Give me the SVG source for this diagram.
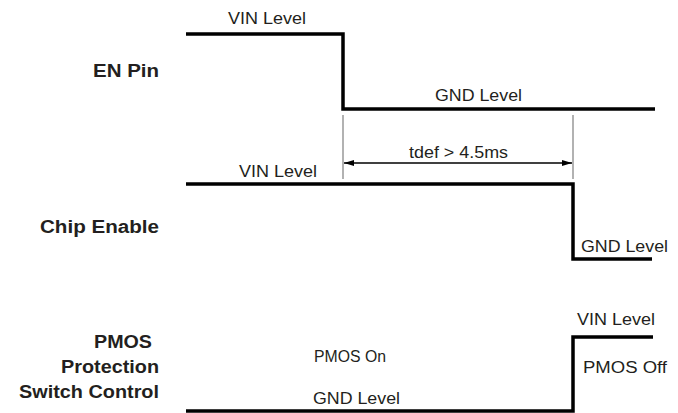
<svg xmlns="http://www.w3.org/2000/svg" width="678" height="413" viewBox="0 0 678 413">
<style>
.wave{fill:none;stroke:#000;stroke-width:3.5;stroke-linejoin:miter;stroke-linecap:butt}
.dim{fill:none;stroke:#999;stroke-width:1.5}
.arr{fill:none;stroke:#000;stroke-width:1.3}
.t{font-family:"Liberation Sans",Arial,sans-serif;font-size:16px;fill:#231f20}
.b{font-family:"Liberation Sans",Arial,sans-serif;font-size:18px;font-weight:bold;fill:#231f20}
</style>
<defs>
<marker id="ah" viewBox="0 0 10 6" refX="10" refY="3" markerWidth="10" markerHeight="6" markerUnits="userSpaceOnUse" orient="auto-start-reverse">
<path d="M0,0 L10,3 L0,6 Z" fill="#000"/>
</marker>
</defs>
<rect width="678" height="413" fill="#fff"/>
<g id="labels">
<text class="b" x="93" y="77" textLength="66" lengthAdjust="spacingAndGlyphs">EN Pin</text>
<text class="b" x="40" y="233" textLength="119" lengthAdjust="spacingAndGlyphs">Chip Enable</text>
<text class="b" x="94" y="348" textLength="58" lengthAdjust="spacingAndGlyphs">PMOS</text>
<text class="b" x="61" y="373" textLength="98" lengthAdjust="spacingAndGlyphs">Protection</text>
<text class="b" x="19" y="398" textLength="140" lengthAdjust="spacingAndGlyphs">Switch Control</text>
</g>
<g id="en-pin">
<path class="wave" d="M186,34 H343 V109 H655"/>
<text class="t" x="228" y="24" textLength="78" lengthAdjust="spacingAndGlyphs">VIN Level</text>
<text class="t" x="435" y="101" textLength="87" lengthAdjust="spacingAndGlyphs">GND Level</text>
</g>
<g id="chip-enable">
<path class="wave" d="M186,184 H573 V259 H652"/>
<text class="t" x="239" y="177" textLength="78" lengthAdjust="spacingAndGlyphs">VIN Level</text>
<text class="t" x="581" y="252" textLength="87" lengthAdjust="spacingAndGlyphs">GND Level</text>
</g>
<g id="pmos">
<path class="wave" d="M186,411 H573 V337 H653"/>
<text class="t" x="577" y="325" textLength="78" lengthAdjust="spacingAndGlyphs">VIN Level</text>
<text class="t" x="314" y="362" textLength="72" lengthAdjust="spacingAndGlyphs">PMOS On</text>
<text class="t" x="583" y="373" textLength="84" lengthAdjust="spacingAndGlyphs">PMOS Off</text>
<text class="t" x="313" y="404" textLength="87" lengthAdjust="spacingAndGlyphs">GND Level</text>
</g>
<g id="connectors">
<line class="dim" x1="343" y1="115" x2="343" y2="179"/>
<line class="dim" x1="573" y1="115" x2="573" y2="179"/>
<line class="arr" x1="344" y1="163" x2="572" y2="163" marker-start="url(#ah)" marker-end="url(#ah)"/>
<text class="t" x="409" y="158" textLength="99" lengthAdjust="spacingAndGlyphs">tdef &gt; 4.5ms</text>
</g>
</svg>
